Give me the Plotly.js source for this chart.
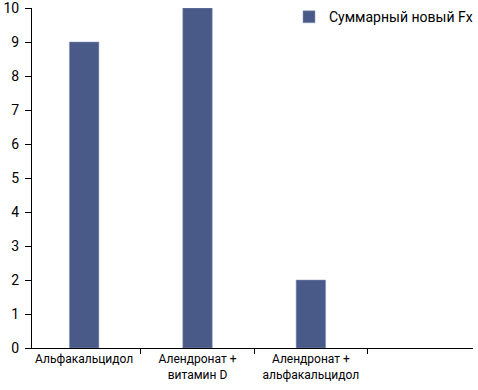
<!DOCTYPE html>
<html>
<head>
<meta charset="utf-8">
<script src="https://cdn.plot.ly/plotly-3.0.1.min.js"></script>
<style>html,body{margin:0;padding:0;background:#fff;}#chart{width:478px;height:390px;}</style>
</head>
<body>
<div id="chart"></div>
<script>
var categories = ["Альфакальцидол", "Алендронат +<br>витамин D", "Алендронат +<br>альфакальцидол", " "];
var seriesName = "Суммарный новый Fx";
var seriesValues = [9, 10, 2, null];
var yTicks = [0, 1, 2, 3, 4, 5, 6, 7, 8, 9, 10];

var font = "Roboto, Liberation Sans, sans-serif";

var trace = {
  type: "bar",
  x: categories,
  y: seriesValues,
  name: seriesName,
  width: 0.26,
  marker: {color: "#4a5a88", line: {color: "#8a96b8", width: 0.5}},
  showlegend: true
};

var layout = {
  width: 478, height: 390,
  margin: {l: 32, r: 0, t: 8, b: 42, pad: 0},
  paper_bgcolor: "#ffffff", plot_bgcolor: "#ffffff",
  font: {family: font, size: 13, color: "#000"},
  bargap: 0,
  xaxis: {
    type: "category",
    range: [-0.46, 3.43],
    showline: true, linecolor: "#000", linewidth: 1,
    ticks: "outside", ticklen: 5, tickcolor: "#000", tickwidth: 1,
    tickson: "boundaries",
    showgrid: false, zeroline: false,
    tickfont: {family: font, size: 12, color: "#000"},
    fixedrange: true
  },
  yaxis: {
    range: [0, 10],
    tickvals: yTicks,
    ticktext: yTicks.map(String),
    showline: true, linecolor: "#000", linewidth: 1,
    ticks: "outside", ticklen: 6, tickcolor: "#000", tickwidth: 1,
    showgrid: false, zeroline: false,
    tickfont: {family: font, size: 14, color: "#000"},
    ticklabelstandoff: 3,
    ticklabeloverflow: "allow",
    fixedrange: true
  },
  legend: {
    x: 0.583, xanchor: "left", y: 1.02, yanchor: "top",
    font: {family: font, size: 14, color: "#000"},
    bgcolor: "rgba(0,0,0,0)"
  }
};

Plotly.newPlot("chart", [trace], layout, {displayModeBar: false, staticPlot: true});
</script>
</body>
</html>
